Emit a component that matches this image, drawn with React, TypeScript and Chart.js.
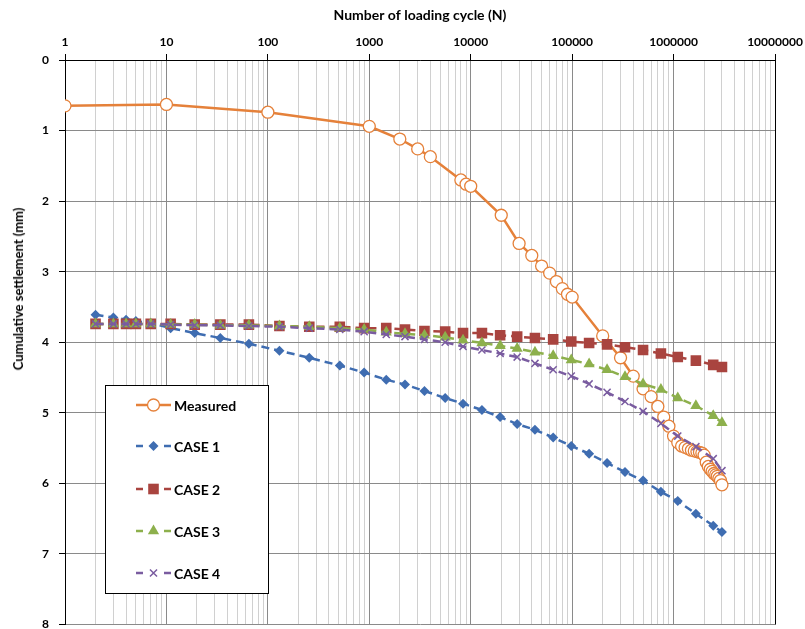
import React, { useEffect, useRef } from 'react';
import { Chart, registerables } from 'chart.js';

Chart.register(...registerables);

// ---- data ----
const measuredCycles = [1, 10, 100, 1000, 2000, 3000, 4000, 8000, 9000, 10000, 20000, 30000, 40000, 50000, 60000, 70000, 80000, 90000, 100000, 200000, 300000, 400000, 500000, 600000, 700000, 800000, 900000, 1000000, 1100000, 1200000, 1300000, 1400000, 1500000, 1600000, 1700000, 1800000, 1900000, 2000000, 2100000, 2200000, 2300000, 2400000, 2500000, 2600000, 2700000, 2800000, 2900000, 3000000];
const measured = [0.65, 0.63, 0.74, 0.94, 1.12, 1.26, 1.37, 1.70, 1.76, 1.79, 2.20, 2.60, 2.77, 2.92, 3.02, 3.14, 3.24, 3.32, 3.36, 3.91, 4.22, 4.48, 4.66, 4.77, 4.91, 5.06, 5.19, 5.33, 5.42, 5.47, 5.49, 5.51, 5.53, 5.54, 5.55, 5.56, 5.57, 5.60, 5.70, 5.76, 5.80, 5.83, 5.86, 5.88, 5.90, 5.93, 5.96, 6.02];

const caseCycles = [2, 3, 4, 5, 7, 11, 19, 34, 65, 130, 256, 512, 890, 1470, 2250, 3500, 5600, 8400, 12900, 19500, 28700, 43000, 65000, 98000, 147000, 221000, 332000, 500000, 750000, 1100000, 1660000, 2460000, 3000000];
const case1 = [3.61, 3.65, 3.68, 3.70, 3.73, 3.80, 3.87, 3.94, 4.02, 4.12, 4.22, 4.33, 4.43, 4.53, 4.60, 4.69, 4.79, 4.87, 4.96, 5.06, 5.16, 5.24, 5.35, 5.47, 5.58, 5.71, 5.84, 5.96, 6.12, 6.25, 6.43, 6.60, 6.69];
const case2 = [3.74, 3.74, 3.74, 3.74, 3.74, 3.74, 3.75, 3.75, 3.75, 3.77, 3.78, 3.78, 3.80, 3.80, 3.82, 3.84, 3.85, 3.87, 3.87, 3.90, 3.92, 3.94, 3.96, 3.99, 4.01, 4.03, 4.07, 4.11, 4.16, 4.21, 4.26, 4.32, 4.35];
const case3 = [3.74, 3.74, 3.74, 3.74, 3.74, 3.75, 3.75, 3.76, 3.76, 3.77, 3.78, 3.80, 3.82, 3.86, 3.88, 3.90, 3.93, 3.97, 4.01, 4.05, 4.09, 4.14, 4.19, 4.25, 4.31, 4.39, 4.49, 4.59, 4.67, 4.79, 4.90, 5.04, 5.14];
const case4 = [3.74, 3.74, 3.74, 3.74, 3.74, 3.75, 3.76, 3.76, 3.77, 3.78, 3.80, 3.82, 3.85, 3.89, 3.92, 3.96, 4.00, 4.06, 4.11, 4.16, 4.21, 4.30, 4.39, 4.48, 4.59, 4.71, 4.84, 4.98, 5.15, 5.33, 5.48, 5.65, 5.82];

const seriesNames = ['Measured', 'CASE 1', 'CASE 2', 'CASE 3', 'CASE 4'];
const xTickValues: number[] = (() => {
  const out: number[] = [];
  for (let e = 0; e < 7; e++) for (let s = 1; s < 10; s++) out.push(s * Math.pow(10, e));
  out.push(1e7);
  return out;
})();
const yMin = 0;
const yMax = 8;
const xAxisTitle = 'Number of loading cycle (N)';
const yAxisTitle = 'Cumulative settlement (mm)';

const FONT = "Lato, 'Liberation Sans', sans-serif";
const COLORS = {
  measured: '#E5813A',
  case1: '#3F6DB1',
  case2: '#A9443F',
  case3: '#8DB04C',
  case4: '#7A5CA0',
};

const isDecade = (v: number) => {
  const l = Math.log10(v);
  return Math.abs(l - Math.round(l)) < 1e-9;
};

const toPts = (xs: number[], ys: number[]) => xs.map((x, i) => ({ x, y: ys[i] }));

function drawMarker(ctx: CanvasRenderingContext2D, kind: string, x: number, y: number, r: number, fill: string, stroke: string, lw: number) {
  ctx.save();
  ctx.beginPath();
  ctx.fillStyle = fill;
  ctx.strokeStyle = stroke;
  ctx.lineWidth = lw;
  ctx.setLineDash([]);
  if (kind === 'circle') {
    ctx.arc(x, y, r, 0, Math.PI * 2);
    ctx.fill();
    ctx.stroke();
  } else if (kind === 'rectRot') {
    ctx.moveTo(x, y - r); ctx.lineTo(x + r, y); ctx.lineTo(x, y + r); ctx.lineTo(x - r, y); ctx.closePath();
    ctx.fill();
  } else if (kind === 'rect') {
    const s = r * Math.SQRT1_2;
    ctx.rect(x - s, y - s, 2 * s, 2 * s);
    ctx.fill();
  } else if (kind === 'triangle') {
    ctx.moveTo(x, y - r);
    ctx.lineTo(x + r * Math.cos(Math.PI / 6), y + r * 0.5);
    ctx.lineTo(x - r * Math.cos(Math.PI / 6), y + r * 0.5);
    ctx.closePath();
    ctx.fill();
  } else if (kind === 'crossRot') {
    const d = r * Math.SQRT1_2;
    ctx.moveTo(x - d, y - d); ctx.lineTo(x + d, y + d);
    ctx.moveTo(x + d, y - d); ctx.lineTo(x - d, y + d);
    ctx.stroke();
  }
  ctx.restore();
}

const legendPlugin = {
  id: 'boxLegend',
  afterDraw(chart: any) {
    const { ctx, chartArea } = chart;
    const bx = chartArea.left + 40;
    const by = chartArea.top + 325;
    const bw = 163;
    const bh = 208;
    ctx.save();
    ctx.fillStyle = '#fff';
    ctx.fillRect(bx, by, bw, bh);
    ctx.strokeStyle = '#000';
    ctx.lineWidth = 1;
    ctx.strokeRect(bx + 0.5, by + 0.5, bw, bh);
    const rows = [20, 61, 104, 146, 188];
    const kinds = ['circle', 'rectRot', 'rect', 'triangle', 'crossRot'];
    const cols = [COLORS.measured, COLORS.case1, COLORS.case2, COLORS.case3, COLORS.case4];
    const radii = [6, 5, 7.5, 6.5, 5];
    const lx0 = bx + 31;
    const lx1 = bx + 66;
    const mx = (lx0 + lx1) / 2;
    rows.forEach((dy, i) => {
      const y = by + dy;
      ctx.strokeStyle = cols[i];
      ctx.lineWidth = 2.5;
      ctx.beginPath();
      if (i === 0) {
        ctx.moveTo(lx0, y); ctx.lineTo(lx1, y);
      } else {
        ctx.moveTo(lx0, y); ctx.lineTo(lx0 + 7, y);
        ctx.moveTo(lx1 - 7, y); ctx.lineTo(lx1, y);
      }
      ctx.stroke();
      if (i === 0) drawMarker(ctx, 'circle', mx, y, radii[i], '#fff', cols[i], 1.3);
      else drawMarker(ctx, kinds[i], mx, y, radii[i], cols[i], cols[i], 1.5);
      ctx.fillStyle = '#000';
      ctx.font = `bold 14px ${FONT}`;
      ctx.textAlign = 'left';
      ctx.textBaseline = 'middle';
      ctx.fillText(seriesNames[i], lx1 + 3, y + 1);
    });
    // right border of the plot area
    ctx.strokeStyle = '#000';
    ctx.lineWidth = 1;
    ctx.beginPath();
    ctx.moveTo(Math.round(chartArea.right) + 0.5, chartArea.top);
    ctx.lineTo(Math.round(chartArea.right) + 0.5, chartArea.bottom);
    ctx.stroke();
    ctx.restore();
  },
};

export default function App() {
  const canvasRef = useRef<HTMLCanvasElement | null>(null);

  useEffect(() => {
    if (!canvasRef.current) return;
    const caseStyle = (label: string, values: number[], color: string, pointStyle: string, radius: number, order: number) => ({
      label,
      data: toPts(caseCycles, values),
      borderColor: color,
      backgroundColor: color,
      pointBackgroundColor: color,
      pointBorderColor: color,
      borderWidth: 2.5,
      borderDash: [8, 5],
      pointStyle,
      pointRadius: radius,
      pointBorderWidth: pointStyle === 'crossRot' ? 1.5 : 0,
      order,
      tension: 0,
    });
    const chart = new Chart(canvasRef.current, {
      type: 'line',
      data: {
        datasets: [
          {
            label: seriesNames[0],
            data: toPts(measuredCycles, measured),
            borderColor: COLORS.measured,
            backgroundColor: '#ffffff',
            pointBackgroundColor: '#ffffff',
            pointBorderColor: COLORS.measured,
            pointBorderWidth: 1.3,
            pointRadius: 6,
            pointStyle: 'circle',
            borderWidth: 2.5,
            order: 5,
            tension: 0,
          },
          caseStyle(seriesNames[1], case1, COLORS.case1, 'rectRot', 5, 4),
          caseStyle(seriesNames[2], case2, COLORS.case2, 'rect', 7.5, 3),
          caseStyle(seriesNames[3], case3, COLORS.case3, 'triangle', 6.5, 2),
          caseStyle(seriesNames[4], case4, COLORS.case4, 'crossRot', 5, 1),
        ] as any,
      },
      options: {
        animation: false,
        responsive: false,
        maintainAspectRatio: false,
        layout: { padding: { left: 0, right: 30, top: 0, bottom: 0 } },
        plugins: {
          legend: { display: false },
          tooltip: { enabled: false },
        },
        scales: {
          x: {
            type: 'logarithmic',
            position: 'top',
            min: 1,
            max: 1e7,
            afterBuildTicks: (scale: any) => {
              scale.ticks = xTickValues.map((v) => ({ value: v, major: isDecade(v) }));
            },
            afterFit: (scale: any) => {
              scale.height = 60;
              scale.paddingLeft = 0;
              scale.paddingRight = 0;
            },
            ticks: {
              autoSkip: false,
              maxRotation: 0,
              minRotation: 0,
              padding: 5,
              color: '#000',
              font: { family: FONT, size: 12, weight: 'bold' },
              callback: (v: any) => (isDecade(Number(v)) ? String(Number(v)) : ''),
            },
            grid: {
              color: (c: any) => (c.tick && isDecade(c.tick.value) ? '#8a8a8a' : '#d0d0d0'),
              tickColor: (c: any) => (c.tick && isDecade(c.tick.value) ? '#000' : 'rgba(0,0,0,0)'),
              tickLength: 6,
              lineWidth: 1,
            },
            border: { color: '#000', width: 1 },
            title: {
              display: true,
              text: xAxisTitle,
              color: '#000',
              font: { family: FONT, size: 14, weight: 'bold' },
              padding: { top: 7, bottom: 0 },
            },
          },
          y: {
            type: 'linear',
            reverse: true,
            min: yMin,
            max: yMax,
            afterFit: (scale: any) => {
              scale.width = 65;
              scale.paddingTop = 0;
              scale.paddingBottom = 0;
            },
            ticks: {
              stepSize: 1,
              padding: 10,
              color: '#000',
              font: { family: FONT, size: 12, weight: 'bold' },
            },
            grid: {
              color: '#8a8a8a',
              tickColor: '#000',
              tickLength: 6,
            },
            border: { color: '#000', width: 1 },
            title: { display: false },
          },
        },
      } as any,
      plugins: [legendPlugin],
    });
    return () => chart.destroy();
  }, []);

  return (
    <div style={{ position: 'fixed', left: 0, top: 0, width: 805, height: 629, background: '#fff', overflow: 'hidden' }}>
      <canvas ref={canvasRef} width={805} height={632} style={{ display: 'block', width: 805, height: 632 }} />
      <div
        style={{
          position: 'absolute',
          left: 18,
          top: 289,
          transform: 'translate(-50%, -50%) rotate(-90deg)',
          whiteSpace: 'nowrap',
          fontFamily: FONT,
          fontWeight: 'bold',
          fontSize: 13,
          color: '#000',
        }}
      >
        {yAxisTitle}
      </div>
    </div>
  );
}
